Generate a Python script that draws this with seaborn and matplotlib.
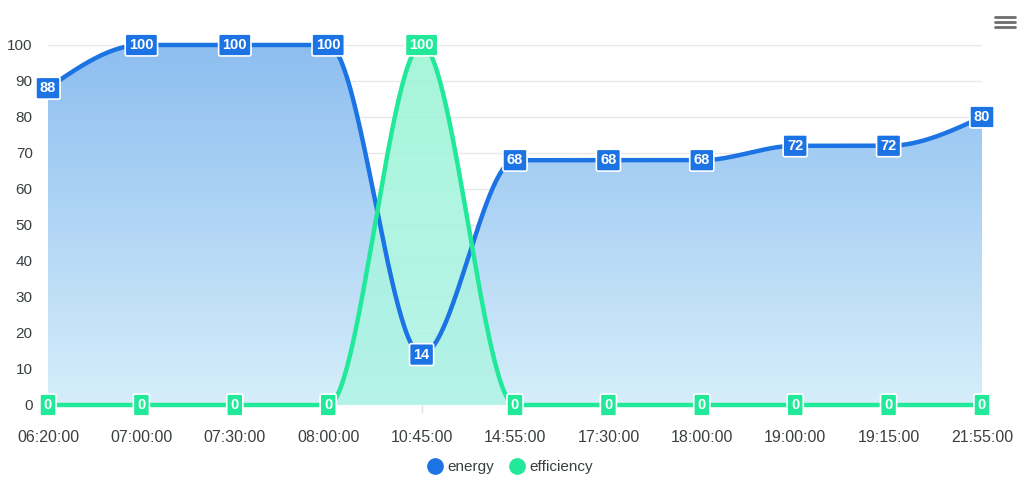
import numpy as np
import pandas as pd
import matplotlib
matplotlib.use("Agg")
import matplotlib.pyplot as plt
import seaborn as sns
from matplotlib.colors import LinearSegmentedColormap
from matplotlib.lines import Line2D

times = ["06:20:00", "07:00:00", "07:30:00", "08:00:00", "10:45:00", "14:55:00",
         "17:30:00", "18:00:00", "19:00:00", "19:15:00", "21:55:00"]
energy = [88, 100, 100, 100, 14, 68, 68, 68, 72, 72, 80]
efficiency = [0, 0, 0, 0, 100, 0, 0, 0, 0, 0, 0]
y_ticks = [0, 10, 20, 30, 40, 50, 60, 70, 80, 90, 100]

BLUE = "#1c74e4"
GREEN = "#22e89a"
FONT = ["Liberation Sans", "DejaVu Sans"]


def monotone_curve(y, n=60):
    """Monotone cubic (d3 curveMonotoneX style) through equally spaced points."""
    y = np.asarray(y, float)
    x = np.arange(len(y), dtype=float)
    d = np.diff(y)
    m = np.zeros_like(y)
    for i in range(1, len(y) - 1):
        if d[i - 1] * d[i] > 0:
            m[i] = 2.0 / (1.0 / d[i - 1] + 1.0 / d[i])
    m[0] = (3 * d[0] - m[1]) / 2
    m[-1] = (3 * d[-1] - m[-2]) / 2
    xs, ys = [], []
    for i in range(len(y) - 1):
        t = np.linspace(0, 1, n, endpoint=(i == len(y) - 2))
        h00 = 2 * t**3 - 3 * t**2 + 1
        h10 = t**3 - 2 * t**2 + t
        h01 = -2 * t**3 + 3 * t**2
        h11 = t**3 - t**2
        xs.append(x[i] + t)
        ys.append(h00 * y[i] + h10 * m[i] + h01 * y[i + 1] + h11 * m[i + 1])
    return np.concatenate(xs), np.concatenate(ys)


sns.set_theme(style="white")
plt.rcParams["font.family"] = FONT

fig = plt.figure(figsize=(10.2, 4.79), dpi=100)
ax = fig.add_axes([48 / 1020, 74 / 479, 934 / 1020, 360 / 479])


def gradient_fill(xs, ys, top, bottom, alpha, z):
    poly = ax.fill_between(xs, ys, 0, facecolor="none", edgecolor="none")
    cmap = LinearSegmentedColormap.from_list("g", [bottom, top])
    grad = np.linspace(0, 1, 256).reshape(-1, 1)
    im = ax.imshow(grad, cmap=cmap, aspect="auto", origin="lower",
                   extent=[xs.min(), xs.max(), 0, max(ys.max(), 1)],
                   alpha=alpha, zorder=z, interpolation="bilinear")
    im.set_clip_path(poly.get_paths()[0], transform=ax.transData)


ex, ey = monotone_curve(energy)
fx, fy = monotone_curve(efficiency)

gradient_fill(ex, ey, "#8dbef0", "#d6eefa", 1.0, 1)
gradient_fill(fx, fy, "#9ef5d6", "#b2f3e8", 0.9, 2)

df_e = pd.DataFrame({"x": ex, "y": ey})
sns.lineplot(data=df_e, x="x", y="y", ax=ax, color=BLUE, linewidth=3.2,
             zorder=3, estimator=None, sort=False)
df_f = pd.DataFrame({"x": fx, "y": fy})
sns.lineplot(data=df_f, x="x", y="y", ax=ax, color=GREEN, linewidth=3.2,
             zorder=4, estimator=None, sort=False)
for ln in ax.get_lines():
    ln.set_clip_on(False)
    ln.set_solid_capstyle("round")

# data labels
for series, col in ((energy, BLUE), (efficiency, GREEN)):
    for i, v in enumerate(series):
        ax.text(i, v, str(v), ha="center", va="center", fontsize=10.5,
                fontweight="bold", color="white", zorder=6, clip_on=False,
                family=FONT,
                bbox=dict(boxstyle="round,pad=0.27,rounding_size=0.12",
                          facecolor=col, edgecolor="white", linewidth=1.2))

ax.set_xlim(0, len(times) - 1)
ax.set_ylim(0, 100)
ax.set_xticks(range(len(times)))
ax.set_xticklabels(times)
ax.set_yticks(y_ticks)
ax.set_yticklabels([str(t) for t in y_ticks])
ax.set_xlabel("")
ax.set_ylabel("")
ax.tick_params(axis="y", length=0, pad=11, labelsize=11, labelcolor="#3a3f41")
ax.tick_params(axis="x", length=6, width=1, color="#e0e0e0", pad=12,
               labelsize=11.5, labelcolor="#3a3f41", direction="out")
ax.xaxis.set_ticks_position("bottom")
ax.grid(axis="y", color="#e8e8e8", linewidth=1)
ax.grid(axis="x", visible=False)
ax.set_axisbelow(True)
for s in ax.spines.values():
    s.set_visible(False)

handles = [Line2D([], [], linestyle="none", marker="o", markersize=11,
                  markerfacecolor=BLUE, markeredgecolor=BLUE),
           Line2D([], [], linestyle="none", marker="o", markersize=11,
                  markerfacecolor=GREEN, markeredgecolor=GREEN)]
leg = fig.legend(handles, ["energy", "efficiency"], loc="center",
                 bbox_to_anchor=(0.5, 1 - 467 / 479), ncol=2, frameon=False,
                 handletextpad=0.3, columnspacing=1.0, handlelength=1.0,
                 prop={"family": FONT, "size": 11})
for t in leg.get_texts():
    t.set_color("#3a3f41")

# menu icon
for yy in (17, 22, 27):
    fig.add_artist(Line2D([995 / 1020, 1015 / 1020], [1 - yy / 479, 1 - yy / 479],
                          color="#6e6e6e", linewidth=2, transform=fig.transFigure))

fig.savefig("out.png", dpi=100)
